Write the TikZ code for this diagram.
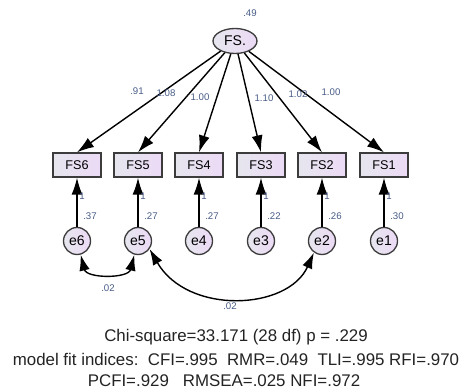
\documentclass[tikz,border=0pt]{standalone}
\usepackage{fontspec}
\setmainfont{Liberation Sans}
\usetikzlibrary{arrows.meta,shapes.geometric}
\definecolor{lilla}{RGB}{236,218,246}
\definecolor{grigiolilla}{RGB}{230,230,238}
\definecolor{stima}{RGB}{72,92,135}
\definecolor{bordo}{RGB}{60,60,60}
\definecolor{testo}{RGB}{35,35,35}

\begin{document}
\begin{tikzpicture}[
	x=0.02cm, y=-0.02cm,
	latente/.style={ellipse, draw=bordo, line width=0.75pt, left color=grigiolilla, right color=lilla, minimum width=0.88cm, minimum height=0.5cm, inner sep=0pt, font=\fontsize{8}{9}\selectfont},
	osservata/.style={rectangle, draw=bordo, line width=0.75pt, left color=grigiolilla, right color=lilla, minimum width=0.96cm, minimum height=0.48cm, inner sep=0pt, font=\fontsize{7.2}{8}\selectfont},
	errore/.style={circle, draw=bordo, line width=0.75pt, left color=grigiolilla, right color=lilla, minimum size=0.54cm, inner sep=0pt, font=\fontsize{8}{9}\selectfont},
	carico/.style={-{Latex[length=3.4mm, width=2.2mm]}, line width=0.8pt, black},
	covarianza/.style={{Latex[length=3.2mm, width=2.1mm]}-{Latex[length=3.2mm, width=2.1mm]}, line width=0.8pt, black},
	stim/.style={font=\fontsize{5.5}{6}\selectfont, stima, inner sep=0pt},
	fit/.style={font=\fontsize{9.6}{11}\selectfont, testo, inner sep=0pt},
	]

	\useasboundingbox (0,0) rectangle (470,391);

	%%--- fattore latente ---
	\node[latente] (fs) at (235,41) {FS.};
	\node[stim] (vfs) at (250,13) {.49};

	%%--- indicatori osservati ---
	\node[osservata] (fs6) at (77,165) {FS6};
	\node[osservata] (fs5) at (138,165) {FS5};
	\node[osservata] (fs4) at (199,165) {FS4};
	\node[osservata] (fs3) at (261,165) {FS3};
	\node[osservata] (fs2) at (322,165) {FS2};
	\node[osservata] (fs1) at (384,165) {FS1};

	%%--- termini d'errore ---
	\node[errore] (e6) at (77,241) {e6};
	\node[errore] (e5) at (138,241) {e5};
	\node[errore] (e4) at (199,241) {e4};
	\node[errore] (e3) at (261,241) {e3};
	\node[errore] (e2) at (322,241) {e2};
	\node[errore] (e1) at (384,241) {e1};

	%%--- saturazioni ---
	\draw[carico] (fs) -- (fs6.north);
	\draw[carico] (fs) -- (fs5.north);
	\draw[carico] (fs) -- (fs4.north);
	\draw[carico] (fs) -- (fs3.north);
	\draw[carico] (fs) -- (fs2.north);
	\draw[carico] (fs) -- (fs1.north);
	\node[stim] (l6) at (137,91) {.91};
	\node[stim] (l5) at (166,93) {1.08};
	\node[stim] (l4) at (200,97) {1.00};
	\node[stim] (l3) at (264,98) {1.10};
	\node[stim] (l2) at (298,94) {1.02};
	\node[stim] (l1) at (331,92) {1.00};

	%%--- errori -> indicatori (peso fissato a 1) ---
	\draw[carico] (e6) -- (fs6);
	\draw[carico] (e5) -- (fs5);
	\draw[carico] (e4) -- (fs4);
	\draw[carico] (e3) -- (fs3);
	\draw[carico] (e2) -- (fs2);
	\draw[carico] (e1) -- (fs1);
	\node[stim] (u6) at (82,196) {1};
	\node[stim] (u5) at (143,196) {1};
	\node[stim] (u4) at (204,196) {1};
	\node[stim] (u3) at (266,196) {1};
	\node[stim] (u2) at (327,196) {1};
	\node[stim] (u1) at (389,196) {1};
	% varianze d'errore
	\node[stim] (v6) at (90,216) {.37};
	\node[stim] (v5) at (151,216) {.27};
	\node[stim] (v4) at (212,216) {.27};
	\node[stim] (v3) at (274,216) {.22};
	\node[stim] (v2) at (335,216) {.26};
	\node[stim] (v1) at (397,216) {.30};

	%%--- covarianze tra errori ---
	\draw[covarianza] (e6.-75) .. controls +(6,24) and +(-6,24) .. (e5.-105);
	\node[stim] (c65) at (108,288) {.02};
	\draw[covarianza] (e5.-35) .. controls +(38,66) and +(-26,58) .. (e2.-125);
	\node[stim] (c52) at (230,306) {.02};

	%%--- indici di adattamento ---
	\node[fit] (chi) at (236,337) {Chi-square=33.171 (28 df) p = .229};
	\node[fit] (idx) at (236,359) {model fit indices:\ \ CFI=.995\ \ RMR=.049\ \ TLI=.995 RFI=.970};
	\node[fit] (pcf) at (224,381) {PCFI=.929\ \ \ RMSEA=.025 NFI=.972};

\end{tikzpicture}
\end{document}
